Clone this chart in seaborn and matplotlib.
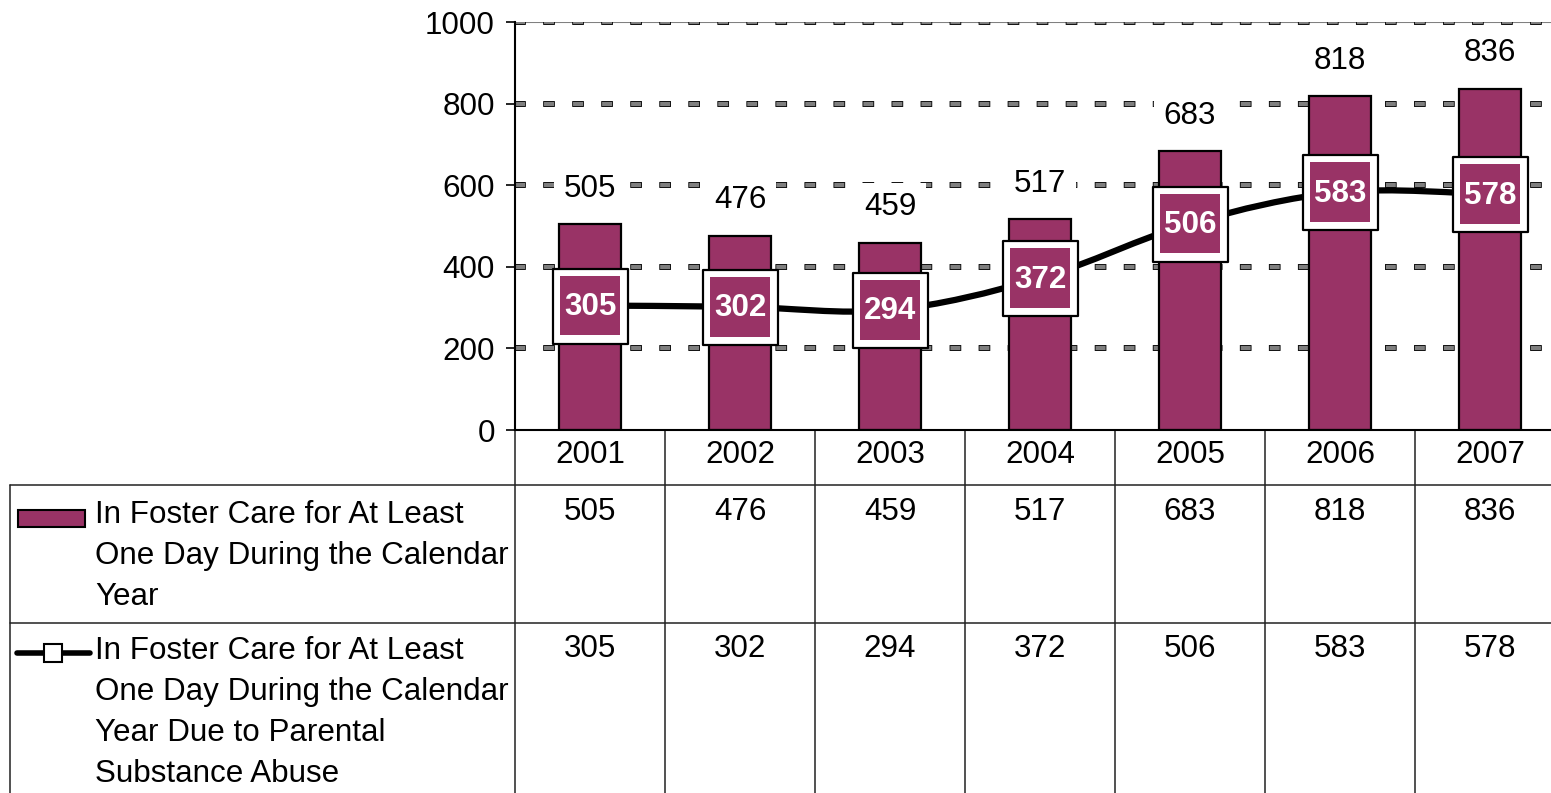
import numpy as np
import matplotlib
matplotlib.use("Agg")
import matplotlib.pyplot as plt
from matplotlib.path import Path
from matplotlib.patches import PathPatch, Rectangle
from matplotlib.lines import Line2D
import seaborn as sns

# ---------------- data ----------------
years = ["2001", "2002", "2003", "2004", "2005", "2006", "2007"]
foster_any = [505, 476, 459, 517, 683, 818, 836]
foster_substance = [305, 302, 294, 372, 506, 583, 578]
series_names = [
    "In Foster Care for At Least\nOne Day During the Calendar\nYear",
    "In Foster Care for At Least\nOne Day During the Calendar\nYear Due to Parental\nSubstance Abuse",
]
y_ticks = [0, 200, 400, 600, 800, 1000]

# ---------------- style ----------------
sns.set_style("white")
plt.rcParams["font.family"] = ["Liberation Sans", "DejaVu Sans"]
plt.rcParams["lines.scale_dashes"] = False
for k in ["text.color", "axes.labelcolor", "xtick.color", "ytick.color"]:
    plt.rcParams[k] = "black"

MAROON = "#993366"
FS = 22.6
W, H = 1551, 793
X0, COLW = 515, 150  # plot area left edge and column width in pixels

fig = plt.figure(figsize=(W / 100, H / 100), dpi=100)
fig.patch.set_facecolor("white")

ov = fig.add_axes([0, 0, 1, 1], zorder=0)
ov.set_xlim(0, W)
ov.set_ylim(H, 0)
ov.axis("off")

ax = fig.add_axes([X0 / W, 1 - 430 / H, COLW * len(years) / W, 408 / H], zorder=1)
ax.patch.set_alpha(0)

# ---------------- bars ----------------
sns.barplot(x=years, y=foster_any, color=MAROON, saturation=1, width=0.41,
            edgecolor="black", linewidth=1.6, ax=ax, zorder=2)

ax.set_xlim(-0.5, len(years) - 0.5)
ax.set_ylim(0, 1000)
ax.set_yticks(y_ticks)
ax.set_yticklabels([str(t) for t in y_ticks], fontsize=FS)
ax.tick_params(axis="y", direction="out", length=6.5, width=1.2, color="black", pad=8, left=True)
ax.tick_params(axis="x", bottom=False, labelbottom=False)
ax.set_xlabel("")
ax.set_ylabel("")
for s in ["top", "right"]:
    ax.spines[s].set_visible(False)
for s in ["left", "bottom"]:
    ax.spines[s].set_color("black")
    ax.spines[s].set_linewidth(1.5)
ax.grid(False)

# dashed gridlines (grey dashes with black outline)
ax.axhline(1000, color="#808080", lw=1.5, zorder=0.9)
for yv in y_ticks[1:]:
    ax.axhline(yv, color="black", lw=4.2, linestyle=(0.6, (8.4, 12.5)), zorder=1)
    ax.axhline(yv, color="#7f7f7f", lw=2.9, linestyle=(0, (7.2, 13.7)), zorder=1.1)

# labels above bars
for i, v in enumerate(foster_any):
    ax.annotate(str(v), (i, v), xytext=(0, 25.5), textcoords="offset points",
                ha="center", va="center", fontsize=FS, color="black", zorder=3,
                bbox=dict(boxstyle="square,pad=0.3", fc="white", ec="none"))

# ---------------- smoothed line ----------------
xs = np.arange(len(years), dtype=float)
pts = np.column_stack([xs, np.asarray(foster_substance, dtype=float)])
verts = [tuple(pts[0])]
codes = [Path.MOVETO]
n = len(pts)
for i in range(n - 1):
    p0 = pts[max(i - 1, 0)]
    p1 = pts[i]
    p2 = pts[i + 1]
    p3 = pts[min(i + 2, n - 1)]
    c1 = p1 + (p2 - p0) / 6.0
    c2 = p2 - (p3 - p1) / 6.0
    verts += [tuple(c1), tuple(c2), tuple(p2)]
    codes += [Path.CURVE4] * 3
ax.add_patch(PathPatch(Path(verts, codes), fc="none", ec="black", lw=4.5,
                       capstyle="round", joinstyle="round", zorder=4))

# label boxes on the line: white square marker, maroon inner square, white bold text
sns.scatterplot(x=xs, y=foster_substance, marker="s", s=54 ** 2, color="white",
                edgecolor="black", linewidth=1.6, ax=ax, zorder=5, legend=False)
sns.scatterplot(x=xs, y=foster_substance, marker="s", s=43 ** 2, color=MAROON,
                edgecolor="none", linewidth=0, ax=ax, zorder=6, legend=False)
for i, v in enumerate(foster_substance):
    ax.annotate(str(v), (i, v), xytext=(0, -1), textcoords="offset points",
                ha="center", va="center", fontsize=FS, fontweight="bold",
                color="white", zorder=7)

# ---------------- data table ----------------
def yfrac(ypix):
    return (430 - ypix) / 408.0

xt = ax.get_xaxis_transform()
for i, y in enumerate(years):
    ax.text(i, yfrac(455), y, transform=xt, ha="center", va="center",
            fontsize=FS, clip_on=False)
    ax.text(i, yfrac(512), str(foster_any[i]), transform=xt, ha="center",
            va="center", fontsize=FS, clip_on=False)
    ax.text(i, yfrac(649), str(foster_substance[i]), transform=xt, ha="center",
            va="center", fontsize=FS, clip_on=False)

for k in range(len(years)):
    ax.add_line(Line2D([k - 0.5, k - 0.5], [yfrac(430), yfrac(H + 5)], transform=xt,
                       color="#222222", lw=1.1, clip_on=False))

for yl in [485, 623]:
    ov.add_line(Line2D([10, W], [yl, yl], color="#222222", lw=1.1))
ov.add_line(Line2D([10, 10], [485, H + 5], color="#222222", lw=1.1))

# legend inside table
ov.add_patch(Rectangle((18, 510), 67, 17, fc=MAROON, ec="black", lw=1.5))
ov.add_line(Line2D([17, 90], [653, 653], color="black", lw=4.0, solid_capstyle="round"))
ov.add_line(Line2D([53], [653], marker="s", markersize=13.5, markerfacecolor="white",
                   markeredgecolor="black", markeredgewidth=1.5, linestyle="none"))

legend_first_line = [515, 651]
for name, y0 in zip(series_names, legend_first_line):
    for j, line in enumerate(name.split("\n")):
        ov.text(95, y0 + 41 * j, line, ha="left", va="center", fontsize=FS)

fig.savefig("out.png", dpi=100, facecolor="white")
